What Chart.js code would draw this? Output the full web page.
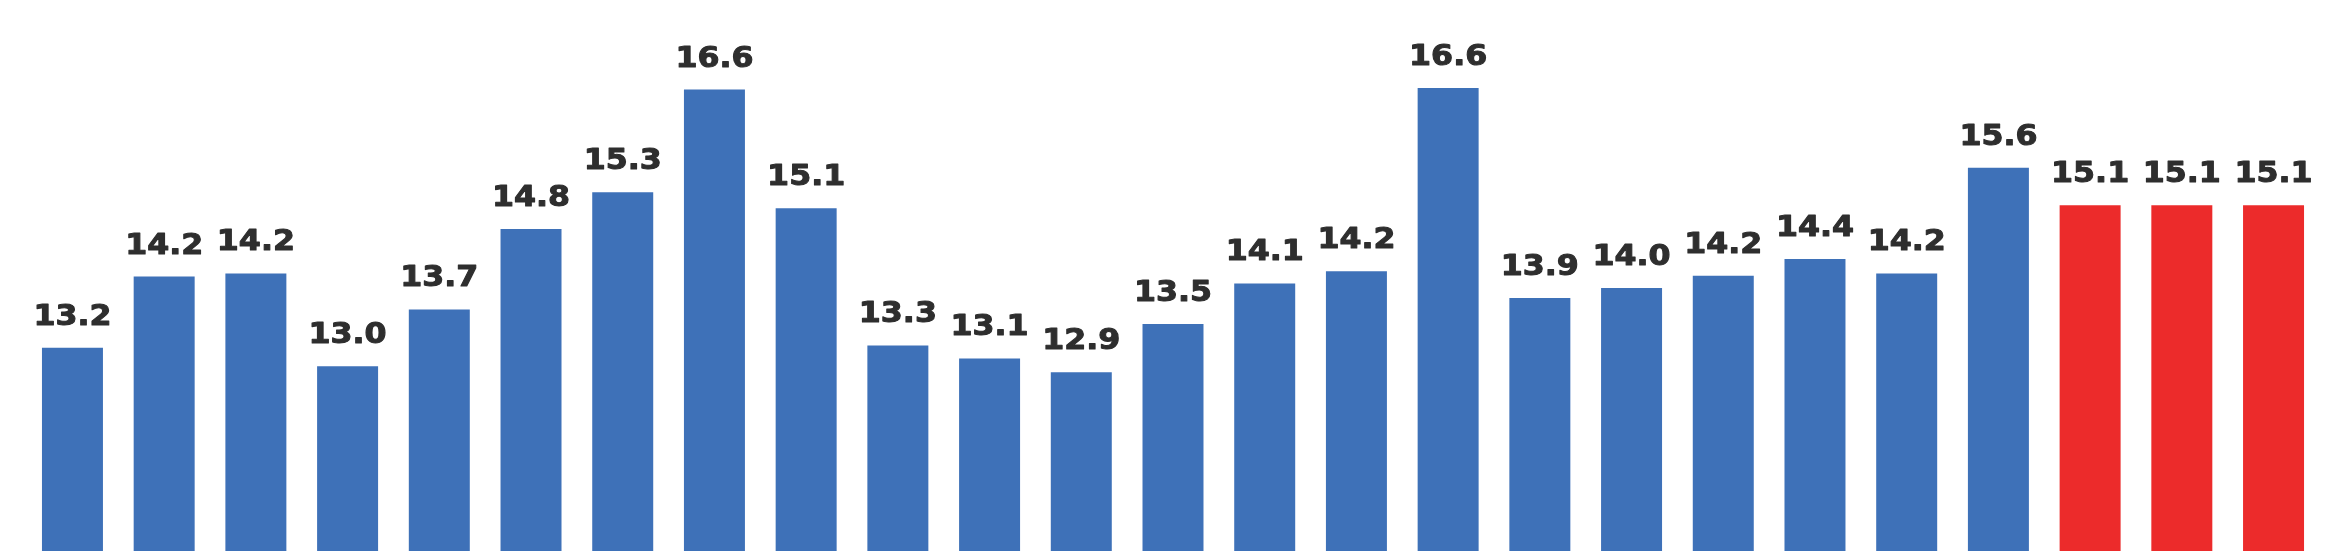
<!DOCTYPE html>
<html>
<head>
<meta charset="utf-8">
<style>
  html, body { margin: 0; padding: 0; background: #ffffff; }
  #wrap { width: 2332px; height: 551px; }
</style>
<script src="https://cdn.jsdelivr.net/npm/chart.js@4/dist/chart.umd.min.js"></script>
</head>
<body>
<div id="wrap"><canvas id="c" width="2332" height="551"></canvas></div>
<script>
// Categories (axis labels are not visible in the picture)
const categories = ["1","2","3","4","5","6","7","8","9","10","11","12","13",
                    "14","15","16","17","18","19","20","21","22","23","24","25"];
// Bar heights
const values = [13.22, 14.15, 14.19, 12.98, 13.72, 14.77, 15.25, 16.59, 15.04, 13.25,
                13.08, 12.9, 13.53, 14.06, 14.22, 16.61, 13.87, 14.0, 14.16, 14.38,
                14.19, 15.57, 15.08, 15.08, 15.08];
// Value labels as printed above the bars
const valueLabels = [13.2, 14.2, 14.2, 13.0, 13.7, 14.8, 15.3, 16.6, 15.1, 13.3,
                     13.1, 12.9, 13.5, 14.1, 14.2, 16.6, 13.9, 14.0, 14.2, 14.4,
                     14.2, 15.6, 15.1, 15.1, 15.1];
// Which bars are highlighted (red) – last three
const highlighted = [false,false,false,false,false,false,false,false,false,false,
                     false,false,false,false,false,false,false,false,false,false,
                     false,false,true,true,true];

const BLUE = "#3e71b8";
const RED = "#ec2b2b";

const labelPlugin = {
  id: "valueLabels",
  afterDatasetsDraw(chart) {
    const ctx = chart.ctx;
    const meta = chart.getDatasetMeta(0);
    ctx.save();
    ctx.fillStyle = "#2e2e2e";
    ctx.strokeStyle = "#2e2e2e";
    ctx.lineWidth = 1;
    ctx.lineJoin = "round";
    ctx.font = "bold 28px 'DejaVu Sans'";
    ctx.textAlign = "center";
    ctx.textBaseline = "alphabetic";
    meta.data.forEach((bar, i) => {
      const txt = valueLabels[i].toFixed(1);
      ctx.save();
      ctx.translate(bar.x, bar.y - 23);
      ctx.scale(1.13, 1);
      ctx.fillText(txt, 0, 0);
      ctx.strokeText(txt, 0, 0);
      ctx.restore();
    });
    ctx.restore();
  }
};

new Chart(document.getElementById("c"), {
  type: "bar",
  data: {
    labels: categories,
    datasets: [{
      data: values,
      backgroundColor: highlighted.map(h => h ? RED : BLUE),
      borderWidth: 0,
      barPercentage: 0.665,
      categoryPercentage: 1.0
    }]
  },
  options: {
    responsive: false,
    animation: false,
    devicePixelRatio: 1,
    layout: { padding: { left: 26.6, right: 12.6, top: 0, bottom: 0 } },
    plugins: { legend: { display: false }, tooltip: { enabled: false } },
    scales: {
      x: { display: false, offset: true, grid: { display: false } },
      y: { display: false, min: 10.567, max: 17.76, grid: { display: false } }
    }
  },
  plugins: [labelPlugin]
});
</script>
</body>
</html>
